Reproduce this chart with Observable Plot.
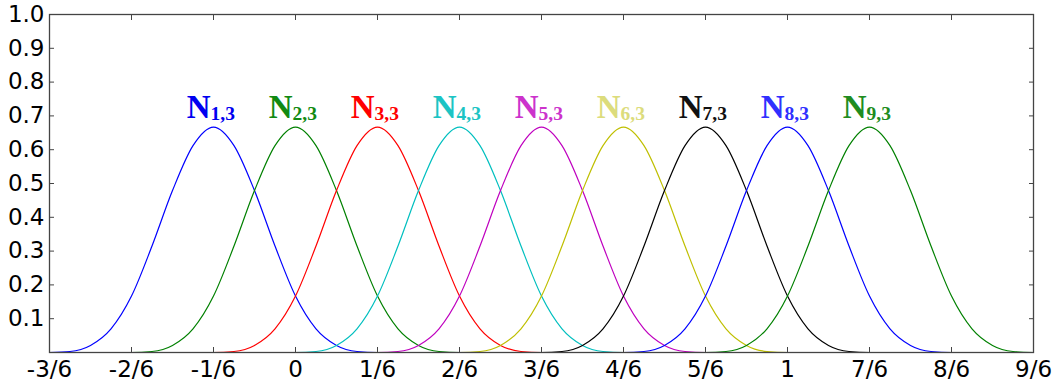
<!DOCTYPE html>
<html>
<head>
<meta charset="utf-8">
<script src="https://cdn.jsdelivr.net/npm/d3@7"></script>
<script src="https://cdn.jsdelivr.net/npm/@observablehq/plot@0.6"></script>
<style>
  html, body { margin: 0; padding: 0; background: #fff; }
  #chart svg { display: block; }
</style>
</head>
<body>
<div id="chart"></div>
<script>
// ---- data ----
const seriesNames = ["1", "2", "3", "4", "5", "6", "7", "8", "9"];
const peakCenters = [-1/6, 0, 1/6, 2/6, 3/6, 4/6, 5/6, 1, 7/6];
// profile of one basis curve: offset from its peak (in x units) and height
const profileOffsets = [-8/24, -7/24, -6/24, -5/24, -4/24, -3/24, -2/24, -1/24, 0,
                        1/24, 2/24, 3/24, 4/24, 5/24, 6/24, 7/24, 8/24];
const profileValues = [0, 0.003, 0.021, 0.070, 0.167, 0.315, 0.479, 0.612, 0.667,
                       0.612, 0.479, 0.315, 0.167, 0.070, 0.021, 0.003, 0];
const lineColors = ["#0000ff", "#008000", "#ff0000", "#00bfbf", "#bf00bf",
                    "#bfbf00", "#000000", "#0000ff", "#008000"];
const labelColors = ["#0000f0", "#128a12", "#ff0000", "#1cc4c4", "#cc33cc",
                     "#dcdc7c", "#111111", "#3030ff", "#208c20"];
const xTickValues = [-3/6, -2/6, -1/6, 0, 1/6, 2/6, 3/6, 4/6, 5/6, 1, 7/6, 8/6, 9/6];
const xTickLabels = ["-3/6", "-2/6", "-1/6", "0", "1/6", "2/6", "3/6", "4/6", "5/6",
                     "1", "7/6", "8/6", "9/6"];
const yTickValues = [0.1, 0.2, 0.3, 0.4, 0.5, 0.6, 0.7, 0.8, 0.9, 1.0];
const xDomain = [-3/6, 9/6];
const yDomain = [0, 1];
const labelLevel = 0.693;

// ---- build table ----
const rows = [];
seriesNames.forEach((name, i) => {
  const c = peakCenters[i];
  if (c + profileOffsets[0] > xDomain[0] + 1e-9) rows.push({x: xDomain[0], y: 0, s: i});
  profileOffsets.forEach((o, k) => rows.push({x: c + o, y: profileValues[k], s: i}));
  if (c + profileOffsets[profileOffsets.length - 1] < xDomain[1] - 1e-9) rows.push({x: xDomain[1], y: 0, s: i});
});
const labels = seriesNames.map((name, i) => ({name, c: peakCenters[i], i}));

const xFormat = d => {
  const idx = xTickValues.findIndex(v => Math.abs(v - d) < 1e-9);
  return idx >= 0 ? xTickLabels[idx] : "";
};

const tickFont = "DejaVu Sans";

const chart = Plot.plot({
  width: 1056,
  height: 390,
  marginLeft: 49,
  marginRight: 23,
  marginTop: 14,
  marginBottom: 38,
  style: {background: "#fff", fontFamily: tickFont, color: "#000"},
  x: {domain: xDomain, label: null},
  y: {domain: yDomain, label: null},
  color: {type: "identity"},
  marks: [
    Plot.line(rows, {
      x: "x", y: "y", z: "s",
      stroke: d => lineColors[d.s],
      strokeWidth: 1.2,
      curve: "monotone-x"
    }),
    Plot.frame({stroke: "#444", strokeWidth: 1.3}),
    // inward ticks on all four sides
    Plot.axisX(xTickValues, {anchor: "bottom", tickSize: 5, insetBottom: 5, fill: "none", stroke: "#444", label: null}),
    Plot.axisX(xTickValues, {anchor: "top", tickSize: 5, insetTop: 5, fill: "none", stroke: "#444", label: null}),
    Plot.axisY(yTickValues, {anchor: "left", tickSize: 5, insetLeft: 5, fill: "none", stroke: "#444", label: null}),
    Plot.axisY(yTickValues, {anchor: "right", tickSize: 5, insetRight: 5, fill: "none", stroke: "#444", label: null}),
    // tick labels
    Plot.axisX(xTickValues, {anchor: "bottom", tickSize: 0, tickPadding: 8, tickFormat: xFormat,
      fontSize: 23, fontFamily: tickFont, fill: "#000", label: null}),
    Plot.axisY(yTickValues, {anchor: "left", tickSize: 0, tickPadding: 5, tickFormat: d3.format(".1f"),
      fontSize: 23, fontFamily: tickFont, fill: "#000", label: null}),
    // curve labels N_{i,3}
    Plot.text(labels, {
      x: "c", y: () => labelLevel, text: () => "N",
      textAnchor: "end", lineAnchor: "bottom", dx: -3,
      fill: d => labelColors[d.i],
      fontFamily: "Liberation Serif", fontWeight: "bold", fontSize: 33
    }),
    Plot.text(labels, {
      x: "c", y: () => labelLevel, text: d => d.name + ",3",
      textAnchor: "start", lineAnchor: "bottom", dx: -3, dy: 1.5,
      fill: d => labelColors[d.i],
      fontFamily: "Liberation Serif", fontWeight: "bold", fontSize: 19.5
    })
  ]
});
document.getElementById("chart").appendChild(chart);
</script>
</body>
</html>
